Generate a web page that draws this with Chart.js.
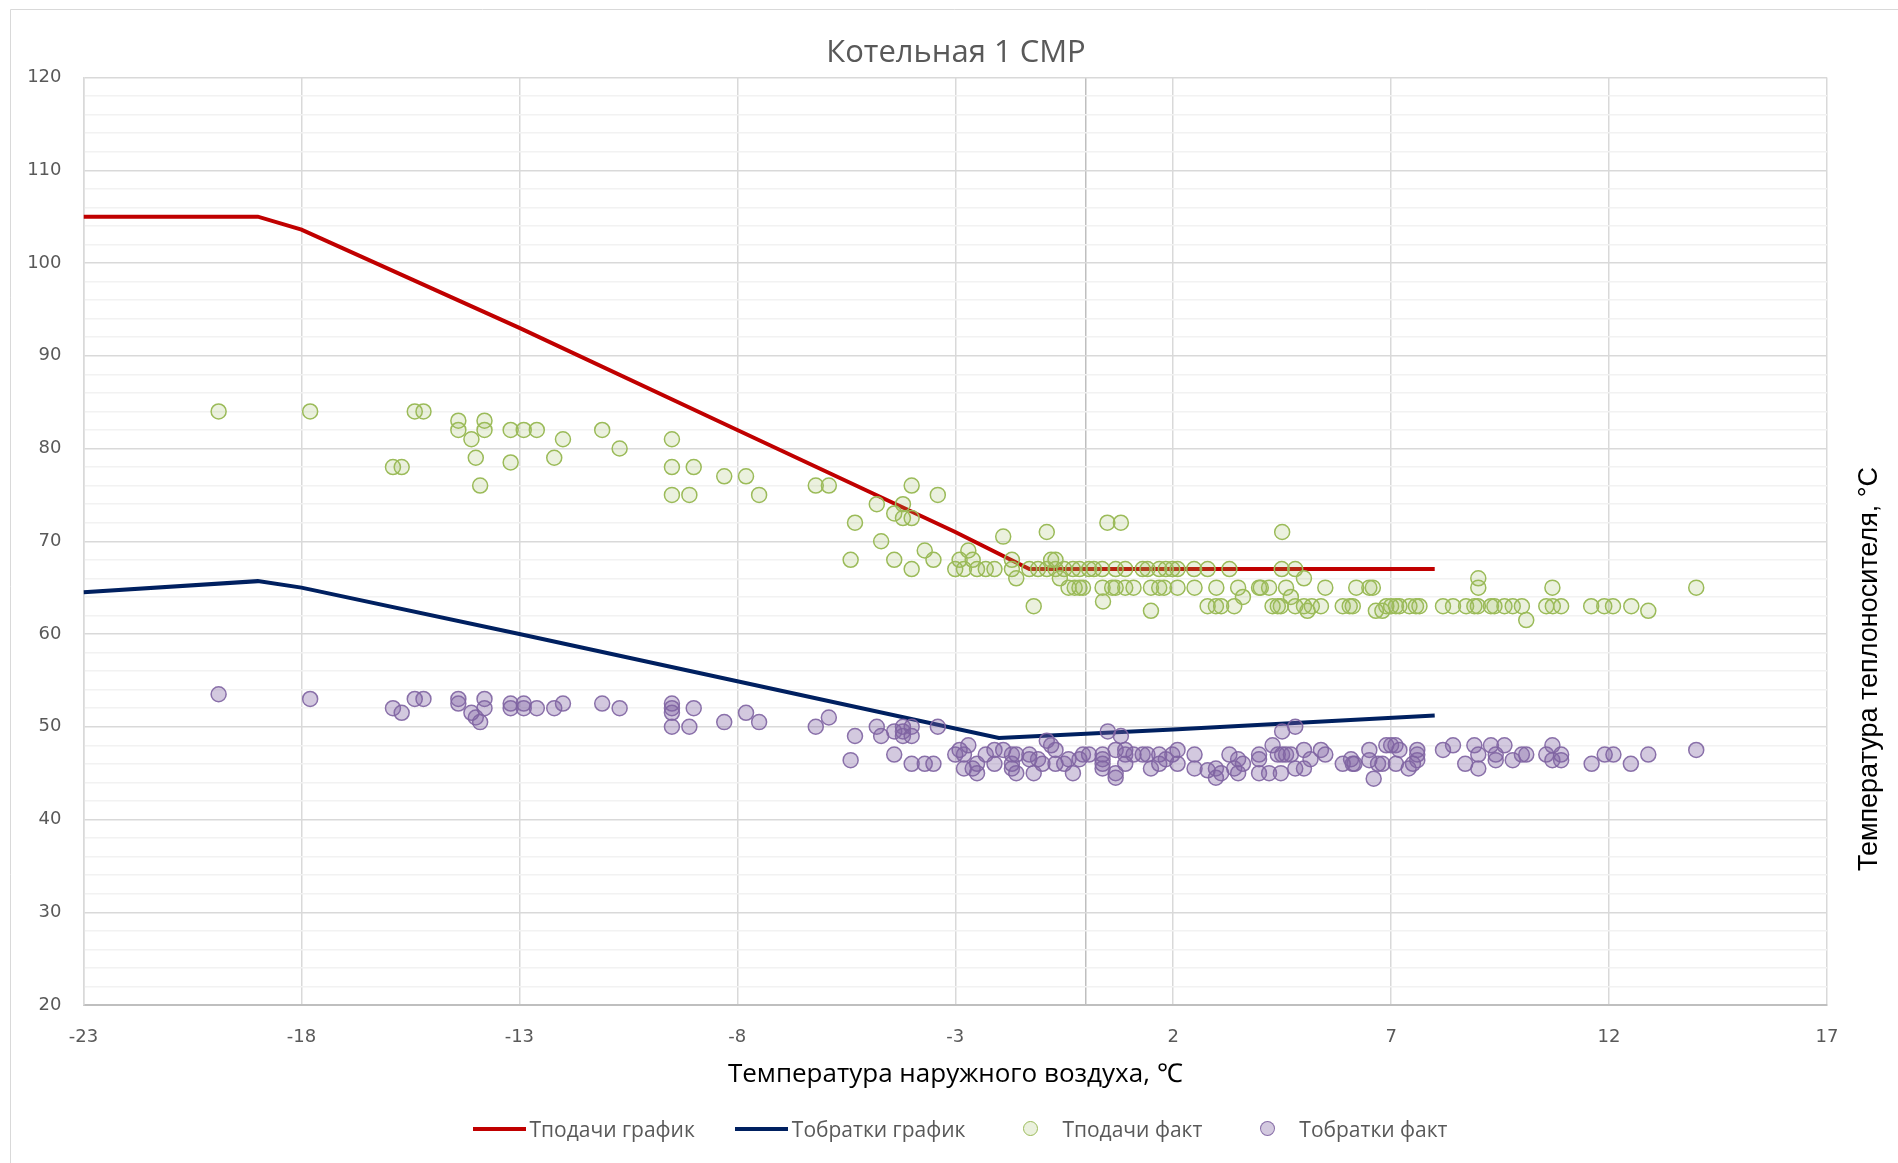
<!DOCTYPE html>
<html>
<head>
<meta charset="utf-8">
<script src="https://cdn.jsdelivr.net/npm/chart.js@4.4.1/dist/chart.umd.min.js"></script>
<style>
    body { margin: 0; background: #fff; }
    #wrap { position: relative; width: 1898px; height: 1163px; }
    #legend {
        position: absolute; left: 0; top: 1114px; width: 1920px;
        display: flex; justify-content: center;
        font: 21px "Open Sans"; color: #595959;
    }
    .item { display: flex; align-items: center; margin: 0 20px; }
    .sym { width: 53px; height: 30px; position: relative; margin-right: 4px; }
    .line { position: absolute; left: 0; right: 0; top: 13px; height: 4px; }
    .dot { position: absolute; left: 18px; top: 7px; width: 13px; height: 13px; border-radius: 50%; border: 1.5px solid; }
</style>
</head>
<body>
<div id="wrap">
    <canvas id="chart" width="1898" height="1163"></canvas>
    <div id="legend"></div>
</div>
<script>
/* Texts */
const chartTitle = "Котельная 1 СМР";
const xTitle = "Температура наружного воздуха, ℃";
const yTitle = "Температура теплоносителя, °С";
const seriesNames = ["Тподачи график", "Тобратки график", "Тподачи факт", "Тобратки факт"];

/* Axis ticks */
const xTicks = [-23, -18, -13, -8, -3, 2, 7, 12, 17];
const xCross = 0;
const yMin = 20;
const yMax = 120;

/* Schedule lines (outdoor temp -> water temp) */
const supplyScheduleT = [-23, -19, -18, -13, -8, -3, -1.3, 8];
const supplyScheduleV = [105, 105, 103.6, 93, 82, 71, 67, 67];
const returnScheduleT = [-23, -19, -18, -13, -8, -2, 2, 8];
const returnScheduleV = [64.5, 65.7, 65.0, 60.0, 54.9, 48.8, 49.7, 51.2];

/* Measured supply temperature */
const supplyFactT = [
    -19.9, -17.8, -15.4, -15.2, -15.9, -15.7, -14.4, -14.4, -13.8, -13.8, -14.1, -14.0, -13.9, -13.2, -13.2, -12.9, -12.6, -12.2, -12.0, -11.1, -10.7, -9.5, -9.5, -9.0, -9.5, -9.1, -8.3, -7.8, -7.5, -6.2, -5.9,
    -4.0, -3.4, -4.8, -4.2, -4.4, -4.2, -4.0, -5.3, -4.7, -5.4, -4.4, -4.0, -3.7, -3.5, -3.0, -2.9, -2.7, -2.6, -2.8, -2.5, -2.3, -2.1, -1.9, -1.7, -1.7, -1.6, -1.3, -1.2, -1.1, -0.9, -0.8, -0.7, -0.9, -0.7, -0.5, -0.3, -0.15, -0.6, -0.4, -0.26, -0.15, -0.07,
    0.49, 0.8, 4.5,
    0.07, 0.18, 0.37, 0.68, 0.9, 1.3, 1.41, 1.68, 1.83, 1.98, 2.1, 2.48, 2.79, 3.29, 4.49, 4.8,
    0.38, 0.6, 0.68, 0.9, 1.09, 1.49, 1.68, 1.79, 2.1, 2.49, 2.99, 3.49, 3.97, 4.01, 4.2, 4.59, 5.49,
    0.39, 1.49, 3.6, 4.7, 5.0, 5.08,
    2.79, 2.98, 3.1, 3.4, 4.28, 4.4, 4.47, 4.8, 5.0, 5.18, 5.39, 5.89, 6.05,
    6.12, 6.89, 7.0, 7.11, 7.19, 7.42, 7.57, 7.65, 8.19, 8.42, 8.72, 8.91, 8.99, 9.29, 9.37, 9.6, 9.79, 10.0, 10.56, 10.71, 10.9, 11.59, 11.89, 12.09, 12.51,
    6.2, 6.5, 6.58, 6.65, 6.8, 9.0, 9.0, 10.1, 10.7, 12.9, 14.0
];
const supplyFactV = [
    84, 84, 84, 84, 78, 78, 83, 82, 83, 82, 81, 79, 76, 82, 78.5, 82, 82, 79, 81, 82, 80, 81, 78, 78, 75, 75, 77, 77, 75, 76, 76,
    76, 75, 74, 74, 73, 72.5, 72.5, 72, 70, 68, 68, 67, 69, 68, 67, 68, 69, 68, 67, 67, 67, 67, 70.5, 68, 67, 66, 67, 63, 67, 71, 68, 68, 67, 67, 67, 67, 67, 66, 65, 65, 65, 65,
    72, 72, 71,
    67, 67, 67, 67, 67, 67, 67, 67, 67, 67, 67, 67, 67, 67, 67, 67,
    65, 65, 65, 65, 65, 65, 65, 65, 65, 65, 65, 65, 65, 65, 65, 65, 65,
    63.5, 62.5, 64, 64, 66, 62.5,
    63, 63, 63, 63, 63, 63, 63, 63, 63, 63, 63, 63, 63,
    63, 63, 63, 63, 63, 63, 63, 63, 63, 63, 63, 63, 63, 63, 63, 63, 63, 63, 63, 63, 63, 63, 63, 63, 63,
    65, 65, 65, 62.5, 62.5, 66, 65, 61.5, 65, 62.5, 65
];

/* Measured return temperature */
const returnFactT = [
    -19.9, -17.8, -15.9, -15.7, -15.4, -15.2, -14.4, -14.4, -13.8, -13.8, -14.1, -14.0, -13.9, -13.2, -13.2, -12.9, -12.9, -12.6, -12.2, -12.0, -11.1, -10.7, -9.5, -9.5, -9.5, -9.5, -9.0, -9.1, -8.3, -7.8, -7.5, -6.2, -5.9,
    -5.3, -5.4, -4.8, -4.7, -4.4, -4.2, -4.0, -4.2, -4.2, -4.0, -4.4, -4.0, -3.7, -3.5, -3.4,
    -3.0, -2.9, -2.8, -2.7, -2.8, -2.6, -2.5, -2.5, -2.3, -2.1, -2.1, -1.9, -1.7, -1.6, -1.7, -1.7, -1.6,
    -1.3, -1.3, -1.2, -1.1, -1.0, -0.9, -0.8, -0.7, -0.7, -0.5, -0.4, -0.3, -0.15, -0.07,
    0.07, 0.38, 0.38, 0.38, 0.38, 0.5, 0.68, 0.68, 0.68, 0.8, 0.9, 0.9, 0.9, 1.09, 1.3, 1.41, 1.49, 1.68, 1.68,
    1.83, 1.98, 2.1, 2.1, 2.49, 2.49, 2.79, 2.98, 2.98, 3.1, 3.29, 3.4, 3.49, 3.6, 3.49, 3.97, 3.97, 3.97,
    4.2, 4.28, 4.4, 4.5, 4.5, 4.47, 4.59, 4.7, 4.8, 4.8, 5.0, 5.0, 5.15, 5.39, 5.49, 5.89,
    6.08, 6.12, 6.16, 6.5, 6.5, 6.6, 6.7, 6.8, 6.89, 7.0, 7.1, 7.19, 7.11, 7.4, 7.5, 7.6, 7.6, 7.6,
    8.19, 8.42, 8.7, 8.91, 9.0, 9.0, 9.29, 9.4, 9.4, 9.6, 9.79, 10.0, 10.1, 10.56, 10.7, 10.7, 10.9, 10.9, 11.6, 11.9, 12.1, 12.5, 12.9, 14.0
];
const returnFactV = [
    53.5, 53, 52, 51.5, 53, 53, 53, 52.5, 53, 52, 51.5, 51, 50.5, 52.5, 52, 52.5, 52, 52, 52, 52.5, 52.5, 52, 52.5, 52, 51.5, 50, 52, 50, 50.5, 51.5, 50.5, 50, 51,
    49, 46.4, 50, 49, 49.5, 50, 50, 49.5, 49, 49, 47, 46, 46, 46, 50,
    47, 47.5, 47, 48, 45.5, 45.5, 46, 45, 47, 47.5, 46, 47.5, 47, 47, 46, 45.5, 45,
    47, 46.5, 45, 46.5, 46, 48.5, 48, 47.5, 46, 46, 46.5, 45, 46.5, 47,
    47, 47, 46.5, 46, 45.5, 49.5, 47.5, 45, 44.5, 49, 47.5, 47, 46, 47, 47, 47, 45.5, 47, 46,
    46.5, 47, 47.5, 46, 47, 45.5, 45.3, 45.5, 44.5, 45, 47, 45.5, 46.5, 46, 45, 47, 46.5, 45,
    45, 48, 47, 49.5, 47, 45, 47, 47, 50, 45.5, 47.5, 45.5, 46.5, 47.5, 47, 46,
    46.5, 46, 46, 47.5, 46.4, 44.4, 46, 46, 48, 48, 48, 47.5, 46, 45.5, 46, 46.4, 47, 47.5,
    47.5, 48, 46, 48, 47, 45.5, 48, 47, 46.4, 48, 46.4, 47, 47, 47, 48, 46.4, 47, 46.4, 46, 47, 47, 46, 47, 47.5
];

/* Colours */
const colSupplyLine = "#c00000";
const colReturnLine = "#002060";
const colSupplyDot = "#9bbb59";
const fillSupplyDot = "rgba(155,187,89,0.2)";
const colReturnDot = "rgba(128,100,162,0.9)";
const fillReturnDot = "rgba(128,100,162,0.35)";

function toPoints(xs, ys) {
    return xs.map(function (x, i) { return { x: x, y: ys[i] }; });
}

/* Frame round the chart, title and the right-hand axis title */
const extras = {
    id: "extras",
    beforeDraw(chart) {
        const ctx = chart.ctx;
        ctx.save();
        ctx.strokeStyle = "#d9d9d9";
        ctx.lineWidth = 1;
        ctx.beginPath();
        ctx.moveTo(10.5, chart.height);
        ctx.lineTo(10.5, 9.5);
        ctx.lineTo(chart.width, 9.5);
        ctx.stroke();
        ctx.restore();
    },
    afterDraw(chart) {
        const ctx = chart.ctx;
        ctx.save();
        ctx.textAlign = "center";
        ctx.textBaseline = "middle";
        ctx.fillStyle = "#595959";
        ctx.font = '31px "Open Sans"';
        ctx.fillText(chartTitle, 956, 53);
        ctx.translate(1870, 669);
        ctx.rotate(-Math.PI / 2);
        ctx.fillStyle = "#000";
        ctx.font = '27px "Liberation Sans"';
        ctx.fillText(yTitle, 0, 0);
        ctx.restore();
    }
};

const tickFont = { family: "DejaVu Sans", size: 18 };

new Chart("chart", {
    type: "scatter",
    data: {
        datasets: [{
            label: seriesNames[3],
            data: toPoints(returnFactT, returnFactV),
            backgroundColor: fillReturnDot,
            borderColor: colReturnDot,
            borderWidth: 1.5,
            pointRadius: 7.5,
            order: 0
        }, {
            label: seriesNames[2],
            data: toPoints(supplyFactT, supplyFactV),
            backgroundColor: fillSupplyDot,
            borderColor: colSupplyDot,
            borderWidth: 1.5,
            pointRadius: 7.5,
            order: 1
        }, {
            label: seriesNames[1],
            data: toPoints(returnScheduleT, returnScheduleV),
            showLine: true,
            borderColor: colReturnLine,
            borderWidth: 4,
            pointRadius: 0,
            order: 2
        }, {
            label: seriesNames[0],
            data: toPoints(supplyScheduleT, supplyScheduleV),
            showLine: true,
            borderColor: colSupplyLine,
            borderWidth: 4,
            pointRadius: 0,
            order: 3
        }]
    },
    options: {
        responsive: false,
        animation: false,
        devicePixelRatio: 1,
        layout: { padding: { left: 0, right: 71, top: 77.5, bottom: 58 } },
        plugins: {
            legend: { display: false },
            tooltip: { enabled: false },
            title: { display: false }
        },
        scales: {
            x: {
                type: "linear",
                min: xTicks[0],
                max: xTicks[xTicks.length - 1],
                afterBuildTicks: function (s) {
                    s.ticks = xTicks.concat([xCross]).sort(function (a, b) { return a - b; })
                        .map(function (v) { return { value: v }; });
                },
                afterFit: function (s) { s.height = 100; },
                grid: {
                    color: function (c) { return c.tick && c.tick.value === xCross ? "#bfbfbf" : "#d9d9d9"; },
                    lineWidth: 1.5,
                    drawTicks: false
                },
                border: { color: "#bfbfbf", width: 2 },
                ticks: {
                    padding: 22,
                    color: "#595959",
                    font: tickFont,
                    autoSkip: false,
                    maxRotation: 0,
                    callback: function (v) { return xTicks.includes(v) ? String(v) : ""; }
                },
                title: {
                    display: true,
                    text: xTitle,
                    color: "#000",
                    font: { family: "Open Sans", size: 26 },
                    padding: { top: 0, bottom: 15 }
                }
            },
            y: {
                min: yMin,
                max: yMax,
                afterFit: function (s) { s.width = 83.5; },
                grid: {
                    color: function (c) { return c.tick && c.tick.value % 10 === 0 ? "#d9d9d9" : "#f2f2f2"; },
                    lineWidth: 1.5,
                    drawTicks: false
                },
                border: { color: "#d9d9d9", width: 1.5 },
                ticks: {
                    stepSize: 2,
                    padding: 22,
                    color: "#595959",
                    font: tickFont,
                    autoSkip: false,
                    callback: function (v) { return v % 10 === 0 ? String(v) : ""; }
                }
            }
        }
    },
    plugins: [extras]
});

/* Legend */
const legendItems = [
    { name: seriesNames[0], kind: "line", color: colSupplyLine },
    { name: seriesNames[1], kind: "line", color: colReturnLine },
    { name: seriesNames[2], kind: "dot", color: colSupplyDot, fill: fillSupplyDot },
    { name: seriesNames[3], kind: "dot", color: colReturnDot, fill: fillReturnDot }
];
const legendBox = document.getElementById("legend");
legendItems.forEach(function (it) {
    const item = document.createElement("div");
    item.className = "item";
    const sym = document.createElement("div");
    sym.className = "sym";
    const mark = document.createElement("div");
    mark.className = it.kind;
    if (it.kind === "line") {
        mark.style.background = it.color;
    } else {
        mark.style.background = it.fill;
        mark.style.borderColor = it.color;
    }
    sym.appendChild(mark);
    const label = document.createElement("span");
    label.textContent = it.name;
    item.appendChild(sym);
    item.appendChild(label);
    legendBox.appendChild(item);
});
</script>
</body>
</html>
